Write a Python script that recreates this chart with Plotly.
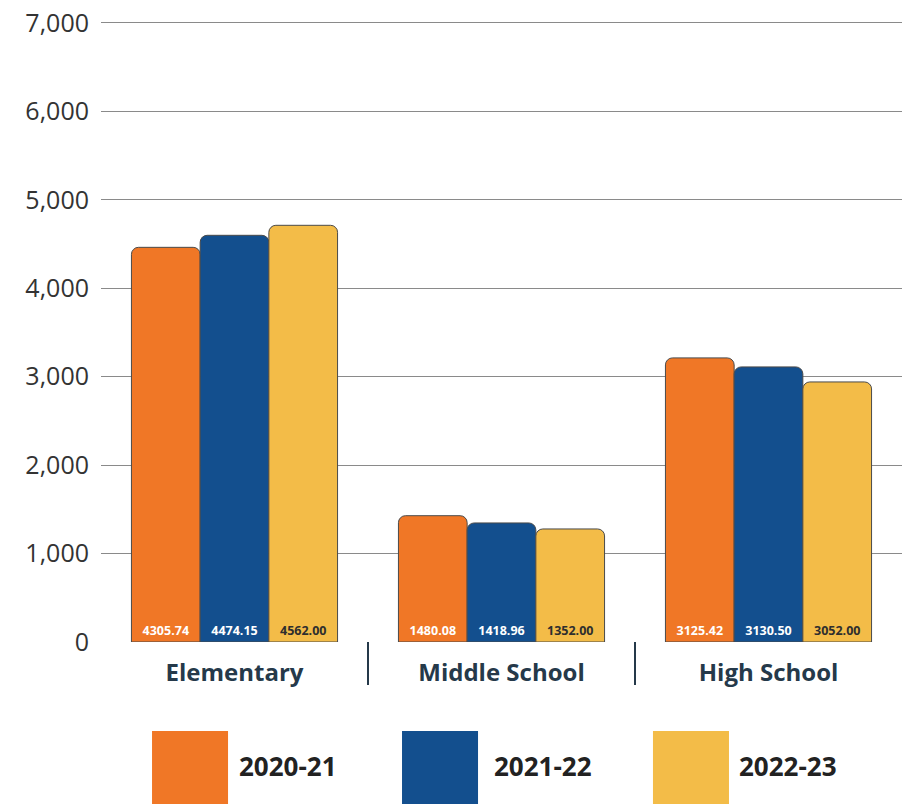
import plotly.graph_objects as go

categories = ["Elementary", "Middle School", "High School"]
series_names = ["2020-21", "2021-22", "2022-23"]
# bar heights as drawn in the picture
values_2020_21 = [4462, 1428, 3212]
values_2021_22 = [4598, 1346, 3110]
values_2022_23 = [4711, 1278, 2940]
# value labels printed on the bars
labels_2020_21 = ["4305.74", "1480.08", "3125.42"]
labels_2021_22 = ["4474.15", "1418.96", "3130.50"]
labels_2022_23 = ["4562.00", "1352.00", "3052.00"]
y_ticks = [0, 1000, 2000, 3000, 4000, 5000, 6000, 7000]
y_tick_labels = ["0", "1,000", "2,000", "3,000", "4,000", "5,000", "6,000", "7,000"]

colors = ["#F07726", "#134F8E", "#F3BC48"]
label_colors = ["#FFFFFF", "#FFFFFF", "#2E2E2E"]
series_values = [values_2020_21, values_2021_22, values_2022_23]
series_labels = [labels_2020_21, labels_2021_22, labels_2022_23]

fig = go.Figure()
for name, vals, labs, col, tcol in zip(series_names, series_values, series_labels, colors, label_colors):
    fig.add_trace(go.Bar(
        x=categories, y=vals, name=name, text=labs,
        textposition="inside", insidetextanchor="start",
        textangle=0, constraintext="none",
        textfont=dict(family="Open Sans", size=12.5, color=tcol, weight="bold"),
        marker=dict(color=col, line=dict(color="#4a4a4a", width=1), cornerradius=7),
        showlegend=False, hoverinfo="skip",
    ))

plot_bottom_px = 642
fig_h = 804
top_px = 14
fig.update_layout(
    width=905, height=fig_h,
    margin=dict(l=101, r=3, t=top_px, b=fig_h - plot_bottom_px),
    paper_bgcolor="white", plot_bgcolor="white",
    barmode="group", bargap=0.228, bargroupgap=0,
    uniformtext=dict(mode=False),
    font=dict(family="Open Sans", color="#333333"),
)
fig.update_yaxes(
    range=[0, 7100], tickvals=y_ticks, ticktext=y_tick_labels,
    showgrid=True, gridcolor="#8a8a8a", gridwidth=1,
    zeroline=False, showline=False, ticks="",
    tickfont=dict(family="Open Sans", size=25, color="#333333"),
    ticklabelstandoff=11, automargin=False,
)
fig.update_xaxes(
    range=[-0.5, 2.5], showline=False, ticks="", showgrid=False,
    tickfont=dict(family="Open Sans", size=24, color="#25394A", weight="bold"),
    ticklabelstandoff=14, automargin=False,
)

plot_h = fig_h - top_px - (fig_h - plot_bottom_px)
def py(pixel_y):
    return (plot_bottom_px - pixel_y) / plot_h

# category dividers below the axis
for xpos in [0.5, 1.5]:
    fig.add_shape(type="line", xref="x", yref="paper", x0=xpos, x1=xpos, y0=0, y1=py(685),
                  line=dict(color="#25394A", width=2))

# legend swatches and labels
leg_x0 = [0.0637, 0.3758, 0.6891]
leg_tx = [0.1698, 0.4881, 0.794]
for name, col, x0, tx in zip(series_names, colors, leg_x0, leg_tx):
    fig.add_shape(type="rect", xref="paper", yref="paper", x0=x0, x1=x0 + 0.0949,
                  y0=py(810), y1=py(731), fillcolor=col, line=dict(width=0))
    fig.add_annotation(xref="paper", yref="paper", x=tx, y=py(766), text=name,
                       showarrow=False, xanchor="left", yanchor="middle",
                       font=dict(family="Open Sans", size=26, color="#222222", weight="bold"))

fig.write_html("out.html", config={"displayModeBar": False},
               post_script="document.body.style.margin='0';")
